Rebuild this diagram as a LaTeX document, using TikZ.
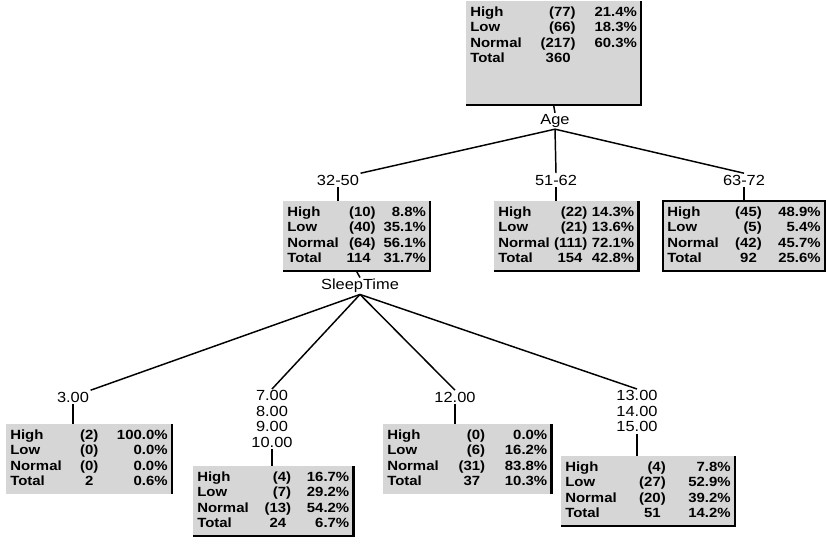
\documentclass[tikz,border=0pt]{standalone}
\usepackage{fontspec}
\usepackage{array}
\setmainfont{Liberation Sans}
\newfontfamily\boxfont[FakeStretch=1.12]{Liberation Sans}
\setlength{\tabcolsep}{1.5pt}

\newcommand{\stattab}[9]{%
  \begin{tabular*}{#1}{@{\extracolsep{\fill}}lrr@{}}
    High & (#2) & #6\\
    Low & (#3) & #7\\
    Normal & (#4) & #8\\
    Total & #5\phantom{)} & #9
  \end{tabular*}}

\begin{document}
\begin{tikzpicture}[x=0.75pt, y=-0.75pt,
  every node/.style={font=\boxfont\fontsize{11}{11.6}\selectfont},
  statbox/.style={fill=black!16, anchor=north west, inner xsep=3pt, inner ysep=3pt,
    font=\boxfont\bfseries\fontsize{10}{11.6}\selectfont},
  split/.style={inner sep=1pt, align=center},
  rim/.style={line width=1.6pt},
  branch/.style={line width=1.1pt}]
  \useasboundingbox (0,0) rectangle (827,551);

  \node[statbox] (root) at (466,1) {\stattab{125pt}{77}{66}{217}{360}{21.4\%}{18.3\%}{60.3\%}{}\rule[-46pt]{0pt}{0pt}};
  \node[split] (age) at (555,121) {Age};
  \node[split] (s1) at (338,180) {32-50};
  \node[split] (s2) at (556,180) {51-62};
  \node[split] (s3) at (744,180) {63-72};

  \node[statbox] (b1) at (283,201) {\stattab{104pt}{10}{40}{64}{114}{8.8\%}{35.1\%}{56.1\%}{31.7\%}};
  \node[statbox] (b2) at (494,201) {\stattab{102pt}{22}{21}{111}{154}{14.3\%}{13.6\%}{72.1\%}{42.8\%}};
  \node[statbox] (b3) at (663,201) {\stattab{115pt}{45}{5}{42}{92}{48.9\%}{5.4\%}{45.7\%}{25.6\%}};

  \node[split] (sleep) at (360,286) {SleepTime};
  \node[split] (l1) at (73,397) {3.00};
  \node[split, anchor=north] (l2) at (272,389) {7.00\\8.00\\9.00\\10.00};
  \node[split] (l3) at (455,397) {12.00};
  \node[split, anchor=north] (l4) at (637,389) {13.00\\14.00\\15.00};

  \node[statbox] (lf1) at (6,424) {\stattab{118pt}{2}{0}{0}{2}{100.0\%}{0.0\%}{0.0\%}{0.6\%}};
  \node[statbox] (lf2) at (193,466) {\stattab{114pt}{4}{7}{13}{24}{16.7\%}{29.2\%}{54.2\%}{6.7\%}};
  \node[statbox] (lf3) at (383,424) {\stattab{120pt}{0}{6}{31}{37}{0.0\%}{16.2\%}{83.8\%}{10.3\%}};
  \node[statbox] (lf4) at (561,456) {\stattab{124pt}{4}{27}{20}{51}{7.8\%}{52.9\%}{39.2\%}{14.2\%}};

  \draw[rim] (root.north east) -- (root.south east) -- (root.south west);
  \draw[rim] (b1.north east) -- (b1.south east) -- (b1.south west);
  \draw[rim] (b2.north east) -- (b2.south east) -- (b2.south west);
  \draw[rim] (b3.north west) rectangle (b3.south east);
  \draw[rim] (lf1.north east) -- (lf1.south east);
  \draw[rim] (lf2.north east) -- (lf2.south east) -- (lf2.south west);
  \draw[rim] (lf3.north east) -- (lf3.south east);
  \draw[rim] (lf4.north east) -- (lf4.south east) -- (lf4.south west);

  \draw[branch] (root.south) -- (age.north);
  \draw[branch] (age.south) -- (s1.north east);
  \draw[branch] (age.south) -- (s2.north);
  \draw[branch] (age.south) -- (s3.north);
  \draw[branch] (s1.south) -- (s1.south |- b1.north);
  \draw[branch] (s2.south) -- (s2.south |- b2.north);
  \draw[branch] (s3.south) -- (s3.south |- b3.north);
  \draw[branch] (b1.south) -- (sleep.north);
  \draw[branch] (sleep.south) -- (l1.north east);
  \draw[branch] (sleep.south) -- (l2.north);
  \draw[branch] (sleep.south) -- (l3.north);
  \draw[branch] (sleep.south) -- (l4.north);
  \draw[branch] (l1.south) -- (l1.south |- lf1.north);
  \draw[branch] (l2.south) -- (l2.south |- lf2.north);
  \draw[branch] (l3.south) -- (l3.south |- lf3.north);
  \draw[branch] (l4.south) -- (l4.south |- lf4.north);
\end{tikzpicture}
\end{document}
